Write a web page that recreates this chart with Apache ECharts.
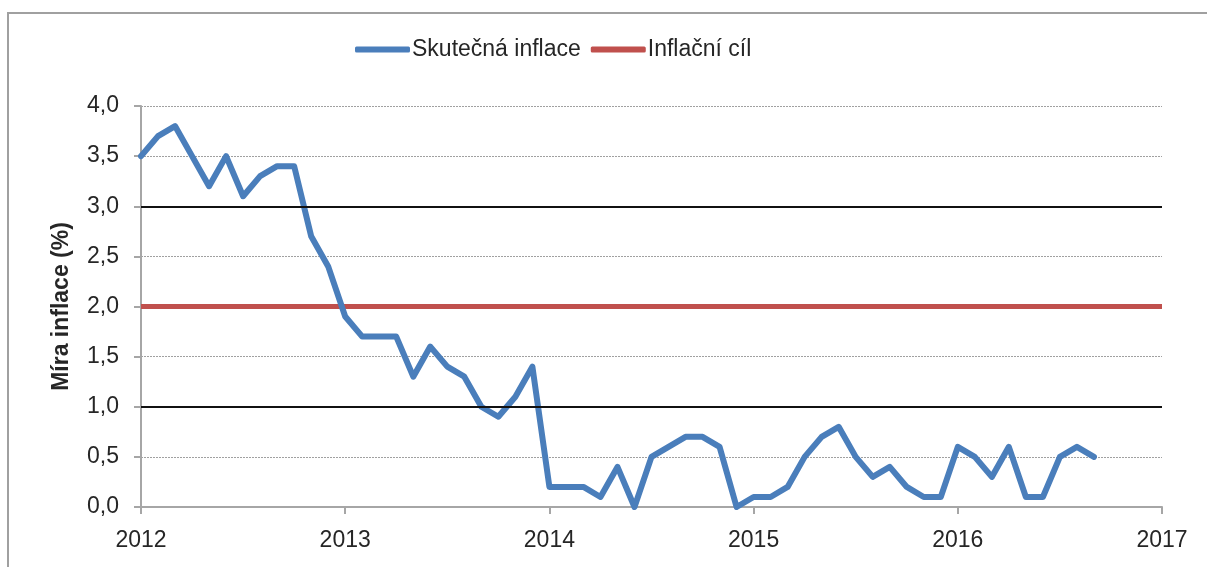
<!DOCTYPE html>
<html>
<head>
<meta charset="utf-8">
<script src="https://cdn.jsdelivr.net/npm/echarts@6/dist/echarts.min.js"></script>
<style>
html, body { margin: 0; padding: 0; background: #fff; }
#chart { width: 1207px; height: 567px; }
</style>
</head>
<body>
<div id="chart"></div>
<script>
// months since Jan 2012 (0 = 2012-01), yearly ticks every 12 months
const startYear = 2012;
const monthCount = 60;

// Skutečná inflace, monthly Jan 2012 .. Sep 2016 (%)
const actualInflation = [
    3.5, 3.7, 3.8, 3.5, 3.2, 3.5, 3.1, 3.3, 3.4, 3.4, 2.7, 2.4,
    1.9, 1.7, 1.7, 1.7, 1.3, 1.6, 1.4, 1.3, 1.0, 0.9, 1.1, 1.4,
    0.2, 0.2, 0.2, 0.1, 0.4, 0.0, 0.5, 0.6, 0.7, 0.7, 0.6, 0.0,
    0.1, 0.1, 0.2, 0.5, 0.7, 0.8, 0.5, 0.3, 0.4, 0.2, 0.1, 0.1,
    0.6, 0.5, 0.3, 0.6, 0.1, 0.1, 0.5, 0.6, 0.5
];

// Inflační cíl
const inflationTarget = 2.0;
// tolerance band around target
const toleranceBand = [1.0, 3.0];

const seriesNames = ["Skutečná inflace", "Inflační cíl"];

const textColor = "#262626";
const font = "'Liberation Sans', Arial, sans-serif";

const chart = echarts.init(document.getElementById("chart"), null, { renderer: "canvas" });

chart.setOption({
    animation: false,
    backgroundColor: "#fff",
    textStyle: { fontFamily: font, color: textColor },
    graphic: [
        {
            type: "rect",
            shape: { x: 8, y: 13, width: 1400, height: 800 },
            style: { fill: "none", stroke: "#a0a0a0", lineWidth: 2 },
            silent: true,
        },
    ],
    legend: {
        left: 350,
        top: 33,
        icon: "roundRect",
        itemWidth: 55,
        itemHeight: 6,
        itemGap: 10,
        textStyle: { fontSize: 23, color: textColor, fontFamily: font, padding: [0, 0, 0, -3] },
        data: seriesNames,
    },
    grid: {
        left: 141,
        right: 45,
        top: 106,
        bottom: 60,
        containLabel: false,
    },
    xAxis: {
        type: "value",
        min: 0,
        max: monthCount,
        interval: 12,
        axisLine: { show: true, lineStyle: { color: "#a6a6a6", width: 2 } },
        axisTick: { show: true, length: 7, lineStyle: { color: "#a6a6a6", width: 2 } },
        axisLabel: {
            fontSize: 23,
            color: textColor,
            margin: 22,
            formatter: v => String(startYear + v / 12),
        },
        splitLine: { show: false },
    },
    yAxis: {
        type: "value",
        min: 0,
        max: 4,
        interval: 0.5,
        name: "Míra inflace (%)",
        nameLocation: "middle",
        nameGap: 68,
        nameTextStyle: { fontSize: 23, fontWeight: "bold", color: textColor },
        axisLine: { show: true, lineStyle: { color: "#a6a6a6", width: 2 } },
        axisTick: { show: true, length: 7, lineStyle: { color: "#a6a6a6", width: 2 } },
        axisLabel: {
            fontSize: 23,
            color: textColor,
            margin: 22,
            formatter: v => v.toFixed(1).replace(".", ","),
        },
        splitLine: { show: true, lineStyle: { color: "#a0a0a0", width: 1, type: [2, 1] } },
    },
    series: [
        {
            name: seriesNames[1],
            type: "line",
            showSymbol: false,
            symbol: "none",
            color: "#c0504d",
            lineStyle: { width: 5, color: "#c0504d" },
            data: [[0, inflationTarget], [monthCount, inflationTarget]],
            z: 3,
            markLine: {
                silent: true,
                symbol: "none",
                label: { show: false },
                lineStyle: { color: "#111", width: 2, type: "solid" },
                data: toleranceBand.map(v => ({ yAxis: v })),
            },
        },
        {
            name: seriesNames[0],
            type: "line",
            showSymbol: false,
            symbol: "none",
            color: "#4a7ebb",
            lineStyle: { width: 6, color: "#4a7ebb", join: "round", cap: "round" },
            data: actualInflation.map((v, i) => [i, v]),
            z: 4,
        },
    ],
});
</script>
</body>
</html>
